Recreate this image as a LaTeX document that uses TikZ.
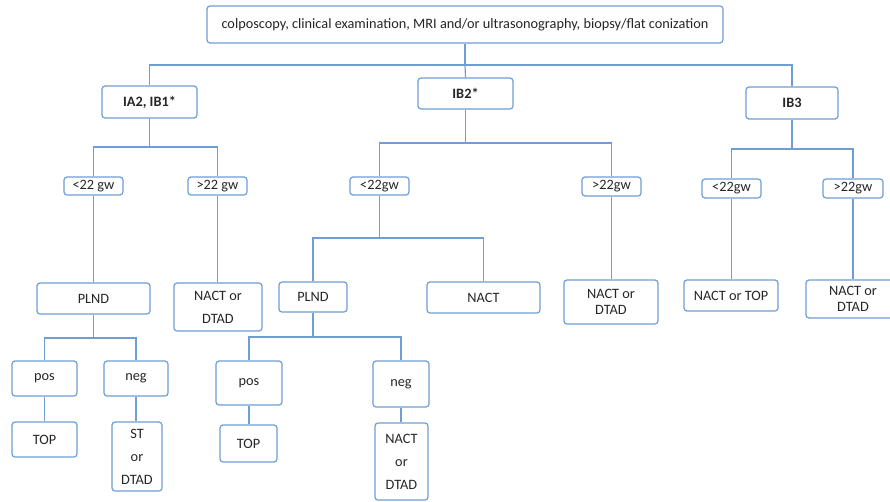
\documentclass[tikz,border=0pt]{standalone}
\usepackage{fontspec}
\setmainfont{Carlito}
\usepackage{tikz}
\definecolor{bcol}{HTML}{6E9ED3}
\definecolor{tcol}{HTML}{262626}

\begin{document}
\begin{tikzpicture}[x=1pt,y=-1pt,
  box/.style={draw=bcol,line width=1.2pt,rounded corners=3pt,fill=white,text=tcol,
    align=center,inner sep=0pt,font=\fontsize{14.3}{16}\selectfont},
  bbox/.style={box,font=\bfseries\fontsize{14.3}{16}\selectfont},
  tall/.style={box,font=\fontsize{14.3}{23}\selectfont},
  link/.style={draw=bcol,line width=1.2pt}]
\clip (0,0) rectangle (890,501);
\fill[white] (0,0) rectangle (890,501);
\node[box,minimum width=516pt,minimum height=37pt] (top) at (465,24.5) {colposcopy, clinical examination, MRI and/or ultrasonography, biopsy/flat conization};
\node[bbox,minimum width=95pt,minimum height=32pt] (ia) at (149.5,102) {IA2, IB1*};
\node[bbox,minimum width=95pt,minimum height=31pt] (ib2) at (465.5,93.5) {IB2*};
\node[bbox,minimum width=92pt,minimum height=32pt] (ib3) at (792,103) {IB3};
\node[box,minimum width=59pt,minimum height=18pt] (la) at (93.5,186) {<22 gw};
\node[box,minimum width=59pt,minimum height=18pt] (lb) at (217.5,186) {>22 gw};
\node[box,minimum width=59pt,minimum height=18pt] (ma) at (379.5,186) {<22gw};
\node[box,minimum width=59pt,minimum height=19pt] (mb) at (611.5,186.5) {>22gw};
\node[box,minimum width=59pt,minimum height=19pt] (ra) at (731.5,188.5) {<22gw};
\node[box,minimum width=60pt,minimum height=19pt] (rb) at (853,188.5) {>22gw};
\node[box,minimum width=113pt,minimum height=31pt] (lplnd) at (93.5,298.5) {PLND};
\node[tall,minimum width=88pt,minimum height=48pt] (lnd) at (218,307) {NACT or\\DTAD};
\node[box,minimum width=68pt,minimum height=30pt] (mplnd) at (313,297) {PLND};
\node[box,minimum width=113pt,minimum height=31pt] (mnact) at (483.5,297.5) {NACT};
\node[box,minimum width=94pt,minimum height=44pt] (mnd) at (611,302) {NACT or\\DTAD};
\node[box,minimum width=94pt,minimum height=31pt] (rnt) at (731,295.5) {NACT or TOP};
\node[box,minimum width=94pt,minimum height=38pt] (rnd) at (853,299) {NACT or\\DTAD};
\node[box,minimum width=65pt,minimum height=35pt] (lpos) at (44.5,378.5) {pos};
\node[box,minimum width=64pt,minimum height=35pt] (lneg) at (136,378.5) {neg};
\node[box,minimum width=65pt,minimum height=35pt] (ltop) at (44.5,439.5) {TOP};
\node[tall,minimum width=50pt,minimum height=69pt] (lst) at (137,456.5) {ST\\or\\DTAD};
\node[box,minimum width=66pt,minimum height=44pt] (mpos) at (249,383) {pos};
\node[box,minimum width=56pt,minimum height=46pt] (mneg) at (401,384) {neg};
\node[box,minimum width=57pt,minimum height=37pt] (mtop) at (248.5,443.5) {TOP};
\node[tall,minimum width=53pt,minimum height=77pt] (mnd2) at (401.5,461.5) {NACT\\or\\DTAD};
\coordinate (b0) at (465,65);
\coordinate (b1) at (149.5,147);
\coordinate (b2) at (465.5,143);
\coordinate (b3) at (792,149);
\coordinate (b4) at (379.5,238);
\coordinate (b5) at (93.5,338);
\coordinate (b6) at (313,337);
\draw[link] (top.south) -- (b0) -| (ia.north);
\draw[link] (b0) -- (ib2.north);
\draw[link] (b0) -| (ib3.north);
\draw[link] (ia.south) -- (b1) -| (la.north);
\draw[link] (b1) -| (lb.north);
\draw[link] (ib2.south) -- (b2) -| (ma.north);
\draw[link] (b2) -| (mb.north);
\draw[link] (ib3.south) -- (b3) -| (ra.north);
\draw[link] (b3) -| (rb.north);
\draw[link] (la.south) -- (la.south |- lplnd.north);
\draw[link] (lb.south) -- (lb.south |- lnd.north);
\draw[link] (ma.south) -- (b4) -| (mplnd.north);
\draw[link] (b4) -| (mnact.north);
\draw[link] (mb.south) -- (mb.south |- mnd.north);
\draw[link] (ra.south) -- (ra.south |- rnt.north);
\draw[link] (rb.south) -- (rb.south |- rnd.north);
\draw[link] (lplnd.south) -- (b5) -| (lpos.north);
\draw[link] (b5) -| (lneg.north);
\draw[link] (mplnd.south) -- (b6) -| (mpos.north);
\draw[link] (b6) -| (mneg.north);
\draw[link] (lpos.south) -- (lpos.south |- ltop.north);
\draw[link] (lneg.south) -- (lneg.south |- lst.north);
\draw[link] (mpos.south) -- (mpos.south |- mtop.north);
\draw[link] (mneg.south) -- (mneg.south |- mnd2.north);
\end{tikzpicture}
\end{document}
